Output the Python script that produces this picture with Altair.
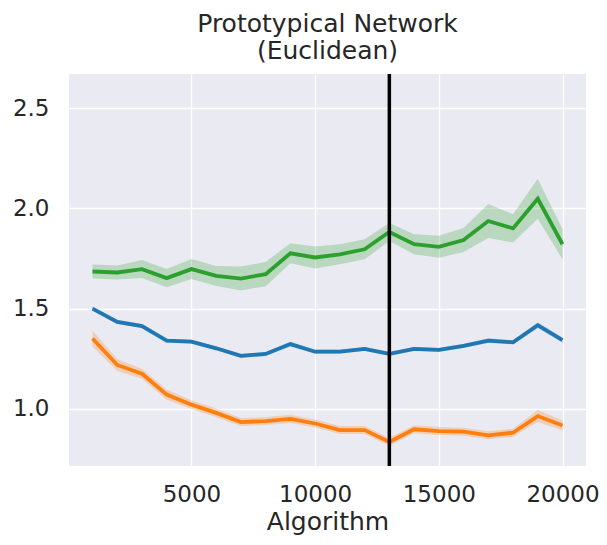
import altair as alt
import pandas as pd

steps = [1000, 2000, 3000, 4000, 5000, 6000, 7000, 8000, 9000, 10000,
         11000, 12000, 13000, 14000, 15000, 16000, 17000, 18000, 19000, 20000]

green_mean = [1.685, 1.680, 1.697, 1.652, 1.697, 1.663, 1.650, 1.672, 1.776, 1.755,
              1.771, 1.796, 1.882, 1.821, 1.808, 1.842, 1.937, 1.900, 2.048, 1.821]
green_ci = [0.035, 0.035, 0.045, 0.045, 0.050, 0.050, 0.060, 0.060, 0.050, 0.055,
            0.050, 0.050, 0.045, 0.050, 0.055, 0.060, 0.085, 0.070, 0.100, 0.075]

blue_mean = [1.500, 1.434, 1.413, 1.340, 1.335, 1.302, 1.264, 1.274, 1.323, 1.285,
             1.285, 1.299, 1.274, 1.299, 1.294, 1.314, 1.340, 1.332, 1.417, 1.343]
blue_ci = [0.010, 0.010, 0.010, 0.010, 0.010, 0.010, 0.010, 0.010, 0.012, 0.010,
           0.010, 0.010, 0.010, 0.010, 0.010, 0.010, 0.012, 0.010, 0.015, 0.012]

orange_mean = [1.351, 1.219, 1.175, 1.071, 1.021, 0.980, 0.934, 0.939, 0.950, 0.927,
               0.894, 0.894, 0.835, 0.898, 0.889, 0.886, 0.868, 0.881, 0.964, 0.917]
orange_ci = [0.040, 0.030, 0.025, 0.025, 0.022, 0.022, 0.020, 0.020, 0.020, 0.020,
             0.020, 0.020, 0.020, 0.020, 0.020, 0.020, 0.020, 0.020, 0.030, 0.025]

series_names = ["green", "blue", "orange"]
series_colors = ["#2ca02c", "#1f77b4", "#ff7f0e"]

marker_step = 13000
title_lines = ["Prototypical Network", "(Euclidean)"]
x_label = "Algorithm"
x_ticks = [5000, 10000, 15000, 20000]
y_ticks = [1.0, 1.5, 2.0, 2.5]

rows = []
for name, mean, ci in [("green", green_mean, green_ci),
                       ("blue", blue_mean, blue_ci),
                       ("orange", orange_mean, orange_ci)]:
    for s, m, c in zip(steps, mean, ci):
        rows.append({"step": s, "value": m, "lo": m - c, "hi": m + c, "series": name})
df = pd.DataFrame(rows)

FONT = "DejaVu Sans"
TXT = "#262626"

xscale = alt.Scale(domain=[50, 20950], nice=False, zero=False)
yscale = alt.Scale(domain=[0.715, 2.67], nice=False, zero=False)
cscale = alt.Scale(domain=series_names, range=series_colors)

xaxis = alt.Axis(values=x_ticks, format="d", title=x_label, grid=True,
                 gridColor="white", gridWidth=1.3, domain=False, ticks=False,
                 labelFontSize=23, labelFont=FONT, labelColor=TXT, labelPadding=17,
                 titleFontSize=25, titleFont=FONT, titleColor=TXT,
                 titleFontWeight="normal", titlePadding=3)
yaxis = alt.Axis(values=y_ticks, format=".1f", title=None, grid=True,
                 gridColor="white", gridWidth=1.3, domain=False, ticks=False,
                 labelFontSize=23, labelFont=FONT, labelColor=TXT, labelPadding=20)

base = alt.Chart(df)

bands = base.mark_area(opacity=0.25).encode(
    x=alt.X("step:Q", scale=xscale, axis=xaxis),
    y=alt.Y("lo:Q", scale=yscale, axis=yaxis),
    y2="hi:Q",
    color=alt.Color("series:N", scale=cscale, legend=None),
    detail="series:N",
)

lines = base.mark_line(strokeWidth=3.8).encode(
    x=alt.X("step:Q", scale=xscale),
    y=alt.Y("value:Q", scale=yscale),
    color=alt.Color("series:N", scale=cscale, legend=None),
    detail="series:N",
)

rule_df = pd.DataFrame({"step": [marker_step]})
rule = alt.Chart(rule_df).mark_rule(color="black", strokeWidth=3.5).encode(
    x=alt.X("step:Q", scale=xscale),
)

chart = alt.layer(bands, lines, rule).properties(
    width=517,
    height=392,
    autosize=alt.AutoSizeParams(type="none"),
    padding={"left": 61, "top": 66, "right": 13, "bottom": 71},
    title=alt.TitleParams(text=title_lines, fontSize=25, font=FONT, color=TXT,
                          fontWeight="normal", anchor="middle", lineHeight=27,
                          baseline="bottom", offset=-17),
).configure(
    background="white",
    view=alt.ViewConfig(fill="#EAEAF2", stroke=None),
)

chart.save("out.html", embed_options={"renderer": "svg", "actions": False})
